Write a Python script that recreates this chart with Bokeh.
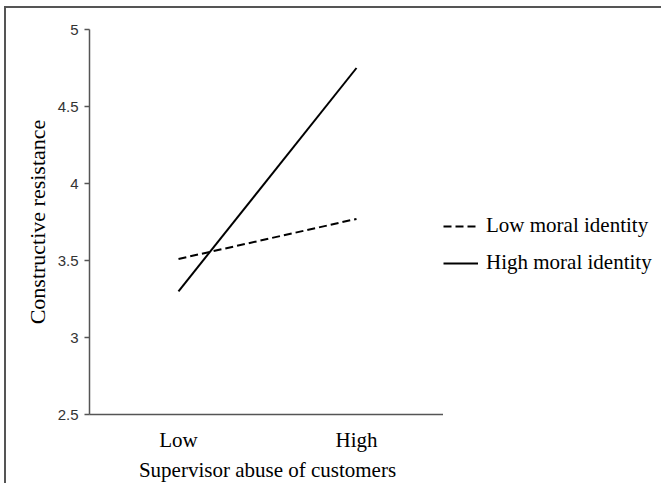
from bokeh.plotting import figure
from bokeh.layouts import row
from bokeh.models import FactorRange, Range1d, FixedTicker, Legend, LegendItem
from bokeh.embed import file_html
from bokeh.resources import INLINE

categories = ["Low", "High"]
low_moral = [3.51, 3.77]
high_moral = [3.30, 4.75]
y_ticks = [2.5, 3, 3.5, 4, 4.5, 5]
y_tick_labels = ["2.5", "3", "3.5", "4", "4.5", "5"]
series_names = ["Low moral identity", "High moral identity"]

SERIF = "Liberation Serif"
SANS = "Liberation Sans"
BORDER = "2px solid #555555"

p = figure(width=439, height=477, output_backend="svg", toolbar_location=None,
           x_range=FactorRange(*categories, range_padding=0),
           y_range=Range1d(2.5, 5),
           min_border_left=83, min_border_right=0, min_border_top=21, min_border_bottom=71)
p.x_range.range_padding = 0
p.outline_line_color = None
p.xgrid.visible = False
p.ygrid.visible = False
p.background_fill_color = "white"
p.border_fill_color = "white"
p.styles = {"border-top": BORDER, "border-left": BORDER}

p.line(categories, low_moral, line_color="black", line_width=2, line_dash="8 4")
p.line(categories, high_moral, line_color="black", line_width=2)

# y axis
ya = p.yaxis[0]
ya.ticker = FixedTicker(ticks=y_ticks)
ya.major_label_overrides = {t: l for t, l in zip(y_ticks, y_tick_labels)}
ya.minor_tick_line_color = None
ya.major_tick_in = 0
ya.major_tick_out = 5
ya.major_label_standoff = 6
ya.axis_line_color = "#555555"
ya.axis_line_width = 1.5
ya.major_tick_line_color = "#555555"
ya.major_tick_line_width = 1.5
ya.major_label_text_font = SANS
ya.major_label_text_font_size = "15px"
ya.major_label_text_color = "#333333"
ya.axis_label = "Constructive resistance"
ya.axis_label_text_font = SERIF
ya.axis_label_text_font_style = "normal"
ya.axis_label_text_font_size = "22px"
ya.axis_label_text_color = "black"
ya.axis_label_standoff = 5

# x axis
xa = p.xaxis[0]
xa.major_tick_line_color = None
xa.minor_tick_line_color = None
xa.major_tick_out = 0
xa.major_label_standoff = 13
xa.axis_line_color = "#555555"
xa.axis_line_width = 1.5
xa.major_label_text_font = SERIF
xa.major_label_text_font_size = "21px"
xa.major_label_text_color = "black"
xa.axis_label = "Supervisor abuse of customers"
xa.axis_label_text_font = SERIF
xa.axis_label_text_font_style = "normal"
xa.axis_label_text_font_size = "21px"
xa.axis_label_text_color = "black"
xa.axis_label_standoff = 3

# legend panel (separate figure to the right of the plot)
q = figure(width=218, height=477, output_backend="svg", toolbar_location=None,
           x_range=FactorRange(*categories), y_range=Range1d(2.5, 5),
           x_axis_type=None, y_axis_type=None,
           min_border_left=0, min_border_right=0, min_border_top=0, min_border_bottom=0)
q.outline_line_color = None
q.xgrid.visible = False
q.ygrid.visible = False
q.border_fill_color = "white"
q.styles = {"border-top": BORDER}
k1 = q.line(categories, low_moral, line_color="black", line_width=2, line_dash="8 4", visible=False)
k2 = q.line(categories, high_moral, line_color="black", line_width=2, visible=False)

legend = Legend(items=[LegendItem(label=series_names[0], renderers=[k1]),
                       LegendItem(label=series_names[1], renderers=[k2])],
                location=(0, 139), orientation="vertical")
legend.padding = 0
legend.margin = 0
legend.spacing = 12
legend.glyph_width = 35
legend.glyph_height = 20
legend.label_height = 20
legend.label_standoff = 8
legend.label_text_font = SERIF
legend.label_text_font_size = "21px"
legend.label_text_color = "black"
legend.border_line_color = None
legend.background_fill_alpha = 0
q.add_layout(legend, "center")

layout = row(p, q, styles={"margin-left": "4px", "margin-top": "6px"})
open("out.html", "w").write(file_html(layout, INLINE))
